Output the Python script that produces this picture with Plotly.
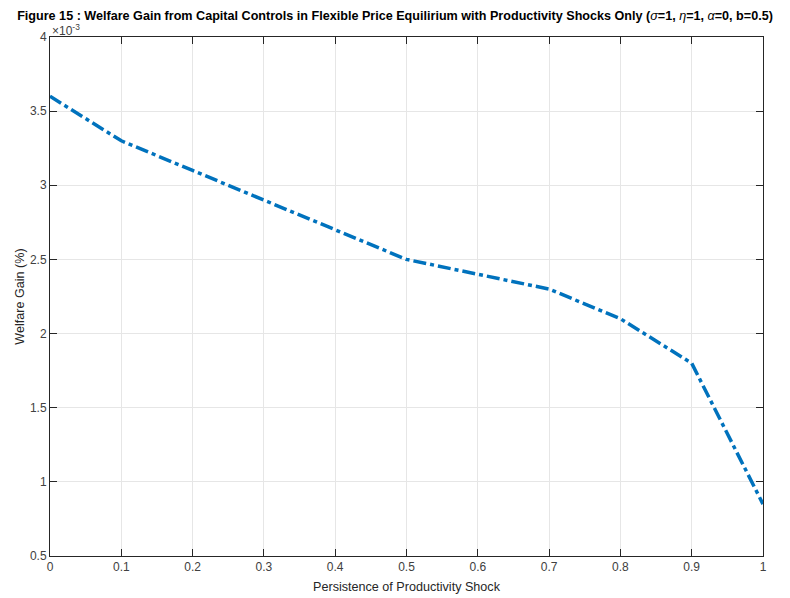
import plotly.graph_objects as go

persistence = [0, 0.1, 0.2, 0.3, 0.4, 0.5, 0.6, 0.7, 0.8, 0.9, 1.0]
welfare_gain = [3.6e-3, 3.3e-3, 3.1e-3, 2.9e-3, 2.7e-3, 2.5e-3, 2.4e-3, 2.3e-3, 2.1e-3, 1.8e-3, 0.85e-3]

x_ticks = [0, 0.1, 0.2, 0.3, 0.4, 0.5, 0.6, 0.7, 0.8, 0.9, 1]
x_tick_labels = ["0", "0.1", "0.2", "0.3", "0.4", "0.5", "0.6", "0.7", "0.8", "0.9", "1"]
y_ticks = [0.5e-3, 1e-3, 1.5e-3, 2e-3, 2.5e-3, 3e-3, 3.5e-3, 4e-3]
y_tick_labels = ["0.5", "1", "1.5", "2", "2.5", "3", "3.5", "4"]

axc = "#262626"
tickc = "#404040"
gridc = "#e6e6e6"
font = "Liberation Sans, Arial, Helvetica, sans-serif"

fig = go.Figure()
fig.add_trace(go.Scatter(
    x=persistence, y=welfare_gain, mode="lines",
    line=dict(color="#0072BD", width=3.5, dash="13px,4px,4px,4px"),
    showlegend=False, hoverinfo="skip",
))

W, H = 790, 598
L, R, T, B = 50, 763, 37, 556

fig.update_layout(
    width=W, height=H,
    margin=dict(l=L, r=W - R, t=T, b=H - B, autoexpand=False),
    paper_bgcolor="white", plot_bgcolor="white",
    font=dict(family=font, color=axc, size=12),
    title=dict(
        text="<b>Figure 15 : Welfare Gain from Capital Controls in Flexible Price Equilirium with Productivity Shocks Only (</b><i>σ</i><b>=1, </b><i>η</i><b>=1, </b><i>α</i><b>=0, b=0.5)</b>",
        x=0.5, xanchor="center", y=1 - 16 / H, yanchor="middle",
        font=dict(family=font, size=12.6, color="black"),
    ),
    xaxis=dict(
        range=[0, 1], tickvals=x_ticks, ticktext=x_tick_labels,
        showgrid=True, gridcolor=gridc, gridwidth=1, automargin=False,
        showline=True, linecolor=axc, linewidth=1, mirror="ticks",
        ticks="inside", ticklen=7, tickcolor=axc,
        zeroline=False, tickfont=dict(size=12, color=tickc),
        title=dict(text="Persistence of Productivity Shock", font=dict(size=12.6, color=axc), standoff=8),
    ),
    yaxis=dict(
        range=[0.5e-3, 4e-3], tickvals=y_ticks, ticktext=y_tick_labels,
        showgrid=True, gridcolor=gridc, gridwidth=1, automargin=False,
        showline=True, linecolor=axc, linewidth=1, mirror="ticks",
        ticks="inside", ticklen=7, tickcolor=axc,
        zeroline=False, tickfont=dict(size=12, color=tickc),
        title=dict(text="Welfare Gain (%)", font=dict(size=12.6, color=axc), standoff=2),
    ),
)

fig.add_annotation(
    text="×10<sup>-3</sup>", xref="paper", yref="paper", x=0, y=1,
    xanchor="left", yanchor="bottom", showarrow=False, xshift=0, yshift=-3,
    font=dict(size=12, color=tickc, family=font),
)

fig.write_html("out.html")
